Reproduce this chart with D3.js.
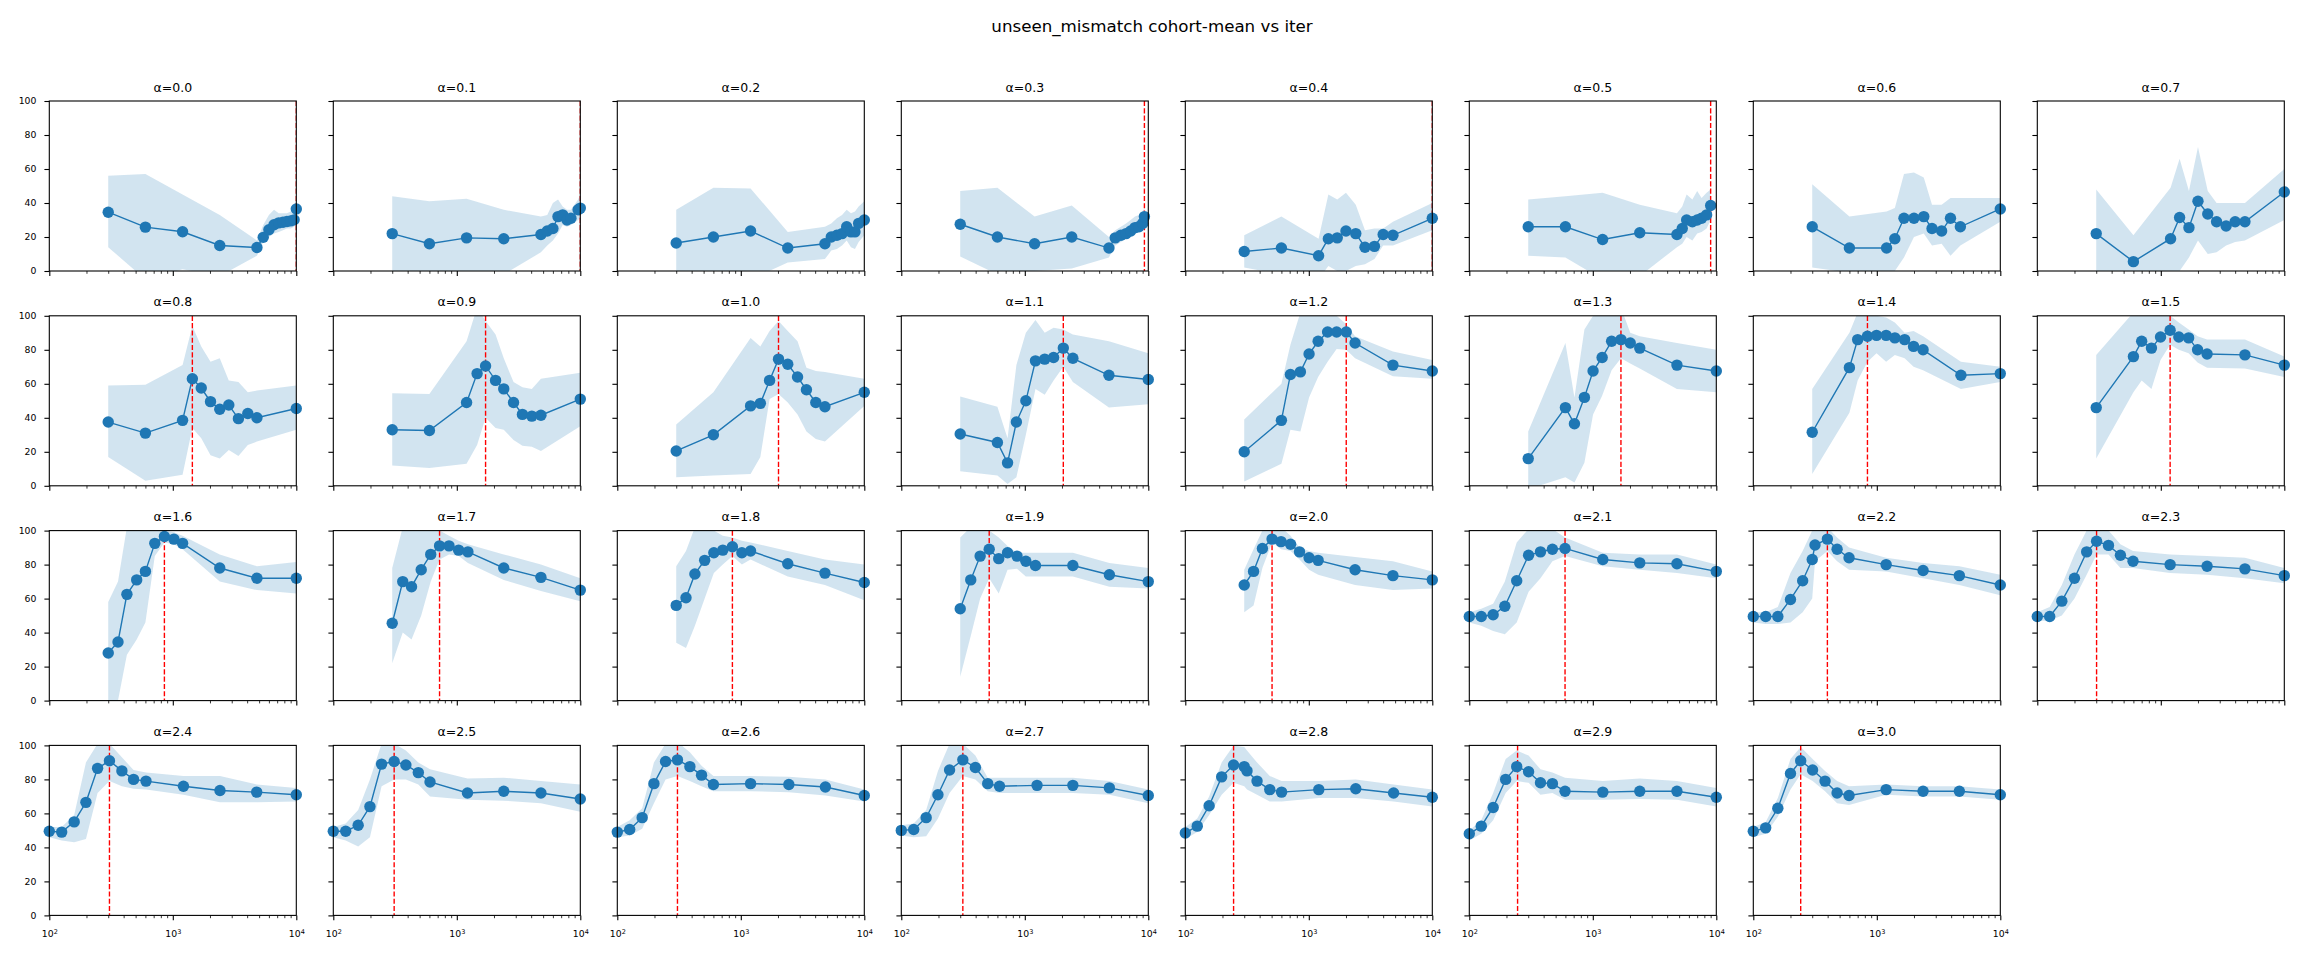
<!DOCTYPE html>
<html>
<head>
<meta charset="utf-8">
<script src="https://cdn.jsdelivr.net/npm/d3@7"></script>
<style>
  body { margin: 0; background: #fff; }
  svg { display: block; font-family: "DejaVu Sans", sans-serif; }
</style>
</head>
<body>
<svg id="chart" width="2304" height="960"></svg>
<script>
// panel labels (alpha values)
const alphas = ["0.0", "0.1", "0.2", "0.3", "0.4", "0.5", "0.6", "0.7",
                "0.8", "0.9", "1.0", "1.1", "1.2", "1.3", "1.4", "1.5",
                "1.6", "1.7", "1.8", "1.9", "2.0", "2.1", "2.2", "2.3",
                "2.4", "2.5", "2.6", "2.7", "2.8", "2.9", "3.0"];

// iterations sampled in each panel
const iters = [
  [300, 600, 1200, 2400, 4800, 5400, 6000, 6600, 7200, 7800, 8400, 9000, 9600, 10000],
  [300, 600, 1200, 2400, 4800, 5400, 6000, 6600, 7200, 7800, 8400, 9600, 10000],
  [300, 600, 1200, 2400, 4800, 5400, 6000, 6600, 7200, 7800, 8400, 9000, 10000],
  [300, 600, 1200, 2400, 4800, 5400, 6000, 6600, 7200, 7800, 8400, 9000, 9300],
  [300, 600, 1200, 1440, 1700, 2000, 2400, 2850, 3400, 4000, 4800, 10000],
  [300, 600, 1200, 2400, 4800, 5300, 5750, 6400, 7000, 7600, 8350, 9000],
  [300, 600, 1200, 1400, 1660, 2000, 2400, 2800, 3350, 3950, 4750, 10000],
  [300, 600, 1200, 1420, 1690, 2000, 2400, 2830, 3380, 4000, 4800, 10000],
  [300, 600, 1200, 1440, 1700, 2020, 2400, 2840, 3400, 4050, 4800, 10000],
  [300, 600, 1200, 1460, 1710, 2060, 2400, 2880, 3400, 4050, 4800, 10000],
  [300, 600, 1200, 1440, 1710, 2020, 2400, 2880, 3400, 4050, 4800, 10000],
  [300, 600, 725, 855, 1020, 1220, 1450, 1710, 2050, 2450, 4800, 10000],
  [300, 600, 710, 855, 1005, 1190, 1420, 1680, 2010, 2370, 4800, 10000],
  [300, 600, 710, 855, 1005, 1190, 1420, 1690, 2010, 2400, 4800, 10000],
  [300, 600, 700, 840, 995, 1190, 1400, 1680, 1985, 2370, 4800, 10000],
  [300, 600, 700, 840, 995, 1190, 1400, 1680, 1985, 2370, 4800, 10000],
  [300, 360, 425, 510, 600, 715, 855, 1020, 1200, 2400, 4800, 10000],
  [300, 365, 430, 515, 615, 725, 865, 1035, 1230, 2400, 4800, 10000],
  [300, 360, 425, 510, 605, 715, 855, 1020, 1200, 2400, 4800, 10000],
  [300, 365, 435, 515, 615, 725, 865, 1020, 1220, 2450, 4840, 10000],
  [300, 357, 421, 504, 596, 712, 841, 1005, 1190, 2370, 4800, 10000],
  [100, 125, 156, 194, 242, 302, 377, 471, 596, 1205, 2400, 4800, 10000],
  [100, 126, 158, 200, 251, 300, 316, 398, 477, 596, 1190, 2370, 4660, 10000],
  [100, 126, 158, 200, 251, 302, 377, 471, 596, 1190, 2370, 4800, 10000],
  [100, 126, 159, 198, 246, 307, 387, 481, 607, 1220, 2410, 4780, 10000],
  [100, 126, 159, 198, 246, 311, 387, 488, 607, 1220, 2400, 4800, 10000],
  [100, 126, 159, 198, 246, 307, 387, 481, 600, 1200, 2450, 4840, 10000],
  [100, 126, 159, 198, 246, 315, 398, 501, 624, 1256, 2450, 4840, 10000],
  [100, 125, 156, 197, 246, 300, 316, 381, 483, 602, 1205, 2400, 4860, 10000],
  [100, 125, 156, 197, 242, 302, 377, 471, 596, 1205, 2400, 4800, 10000],
  [100, 126, 158, 200, 242, 302, 381, 477, 596, 1190, 2370, 4660, 10000]
];

// cohort mean
const means = [
  [34.6, 25.8, 23.1, 15, 13.8, 19.8, 24.3, 27.2, 28.3, 28.7, 29.1, 29.5, 30.1, 36.5],
  [22, 16, 19.5, 19, 21.5, 23.5, 25, 32, 33, 30, 31, 36, 37],
  [16.5, 20, 23.5, 13.5, 16, 20, 21, 22, 26, 23, 23, 28, 30],
  [27.5, 20, 16, 20, 13.5, 19.5, 21, 22, 23.5, 25.5, 26, 28, 32],
  [11.5, 13.5, 9, 19, 19.5, 23.5, 22, 14, 14.5, 21.5, 21, 31],
  [26, 26, 18.5, 22.5, 21.5, 25, 30, 29, 30, 31, 33, 38.5],
  [26, 13.5, 13.5, 19, 31, 31, 32, 25, 23.5, 31, 26, 36.5],
  [22, 5.5, 19, 31.5, 25.5, 41, 33.5, 29, 26.5, 29, 29, 46.5],
  [37.5, 31, 38.5, 63, 57.5, 49.5, 45, 47.5, 39.5, 42.5, 40, 45.5],
  [33, 32.5, 49, 66, 70.5, 62, 57, 49, 42, 41, 41.5, 51],
  [20.5, 30, 47, 48.5, 62, 74.5, 71.5, 64, 56.5, 49, 46.5, 55],
  [30.5, 25.5, 13.5, 37.5, 50, 73.5, 74.5, 75.5, 81, 75, 65, 62.5],
  [20, 38.5, 65.5, 67, 77.5, 85, 90.5, 90.5, 90.5, 84, 71, 67.5],
  [16, 46, 36.5, 52, 67.5, 75.5, 85, 86, 84, 81, 71, 67.5],
  [31.5, 69.5, 86, 88, 88.5, 88.5, 87, 86, 82, 80, 65, 66],
  [46, 76, 85, 81, 87.5, 91.5, 87.5, 87, 80, 77.5, 77, 71],
  [28, 34.5, 62.5, 71, 76, 92.5, 96.5, 95, 92.5, 78, 72, 72],
  [45.5, 70, 67, 77, 86, 91, 91, 88.5, 87.5, 78, 72.5, 65],
  [56, 60.5, 74.5, 82.5, 87, 88.5, 90.5, 87, 88, 80.5, 75, 69.5],
  [54, 71, 85, 89, 83.5, 87, 85, 82, 79.5, 79.5, 74, 70],
  [68, 76, 89.5, 95, 93.5, 92, 87.5, 84, 82.5, 77, 73.5, 71],
  [49.5, 49.5, 50.5, 55.5, 70.5, 85.5, 87.5, 89, 89.5, 83, 81, 80.5, 76],
  [49.5, 49.5, 49.5, 59.5, 70.5, 83, 91.5, 95, 89, 84, 80, 76.5, 73.5, 68],
  [49.5, 49.5, 58.5, 72, 87.5, 93.7, 91.3, 85.5, 82, 80, 79, 77.5, 73.5],
  [49.5, 49, 55, 66.5, 86.5, 91, 85, 80, 79, 76, 73.5, 72.5, 71],
  [49.5, 49.5, 53, 64, 89, 90.5, 88.5, 84, 78.5, 72, 73, 72, 68.5],
  [49, 50.5, 57.5, 77.5, 90.5, 91.5, 87.5, 82.5, 77, 77.5, 77, 75.5, 70.5],
  [50, 50.5, 57.5, 71, 85.5, 91.5, 87, 77.5, 76, 76.5, 76.5, 75, 70.5],
  [48.5, 52.5, 64.5, 81.5, 88.5, 87.5, 85, 79, 74, 72.5, 74, 74.5, 72, 69.5],
  [48, 52.5, 63.5, 80, 87.5, 84.5, 78, 77.5, 73, 72.5, 73, 73, 69.5],
  [49.5, 51.5, 63, 83.5, 91, 85.5, 79, 72, 70.5, 74, 73, 73, 71]
];

// lower edge of the shaded band
const lows = [
  [14, -5, 1, -3, 9, 17, 20, 22, 23, 24, 25, 25, 26, 28],
  [-5, -8, -5, -2, 11, 15, 18, 22, 27, 26, 27, 30, 31],
  [-5, -5, -5, 5, 7, 12, 13, 15, 18, 14, 13, 17, 21],
  [8.5, -2, 0, 1.5, 8, 15, 17, 19, 20, 22, 23, 25, 27],
  [2, -2, -5, 3, 0, 0, 3, 4, 7, 15, 15, 24],
  [9, 8, -5, -3, 14, 16, 20, 18, 22, 23, 25, 30],
  [2, -1, -3, 0, 8, 20, 22, 15, 16, 9, 15, 29],
  [-5, -10, -10, 0, 8, 18, 10, 11, 15, 17, 18, 30],
  [17, 3, 6.5, 34, 28, 18, 16, 21, 17.5, 24, 26, 33],
  [12, 10.5, 13, 24, 40, 34, 33, 27, 23.5, 23, 20.5, 35],
  [5, 6, 7, 17, 51, 54, 49, 42, 32, 27.5, 26, 47],
  [8.5, 6, 1, 5, 30, 57, 53.5, 62, 70, 61, 46, 48],
  [2.5, 13, 33, 32, 52, 64, 73, 80.5, 80, 75, 64.5, 63],
  [-2, 5, 2, 13.5, 42, 53, 68, 75, 72, 69, 57, 55],
  [7, 43, 62, 73, 78, 73, 77, 75, 70, 68, 57, 61],
  [16, 55, 62, 57, 74, 83, 80, 78, 72.5, 69.5, 69, 64],
  [-5, 0, 27, 36, 46, 85, 93, 92, 89, 70, 65, 63],
  [22, 40, 36, 50, 70, 83, 86, 85, 81, 71, 64.5, 58.5],
  [34, 31, 44, 60, 75, 80, 85, 80, 83, 73, 68, 59],
  [14, 38, 60, 72, 63, 77, 77.5, 73, 73, 73, 67, 66],
  [52, 56, 78, 93, 89, 88, 83, 77, 74, 68, 65, 66],
  [46, 44, 41, 39, 46, 64, 72, 82, 85, 79, 77, 75, 72],
  [46, 45, 45, 46, 52, 60, 82, 88, 82, 77, 76, 72, 68, 62],
  [47, 47, 50, 60, 74, 86, 86, 78, 78, 75, 74, 72, 69],
  [46, 44, 43, 45, 72, 79, 76, 74.5, 74, 71, 66.5, 66.5, 67],
  [46, 44, 40.5, 46, 76, 80, 80, 77, 70, 68, 67.5, 66, 61],
  [46, 47, 51, 66, 80, 82, 79, 76, 73, 73, 72.5, 70.5, 67],
  [47, 46, 46.5, 57, 72, 82, 80, 73, 72, 72, 72, 71, 66],
  [45, 49, 59, 71, 78, 76, 74, 71, 67, 67, 69, 69, 67, 64],
  [44, 48, 56, 72, 79, 78, 71, 72, 68, 68, 68.5, 68, 64],
  [46, 48, 58, 74, 83, 79, 73, 66, 65, 71, 70, 70, 68]
];

// upper edge of the shaded band
const highs = [
  [56, 57, 45, 33, 18, 27, 33, 36, 34, 34, 34, 35, 36, 40],
  [44, 41, 42.5, 36, 32, 33, 40, 42, 38, 36, 36, 42, 45],
  [36, 49, 48.5, 23, 26, 28, 31, 33, 36, 34, 35, 38, 41],
  [47, 49, 32, 38.5, 20, 24, 26, 28, 30, 32, 33, 35, 37],
  [21, 32, 19, 45, 42, 46, 39, 24, 25, 25, 29, 40],
  [42, 44, 46, 39, 34, 38, 45, 42, 47, 43, 46, 48],
  [51, 32, 35, 37, 57, 58, 55, 39, 39, 43, 43, 43],
  [48, 21, 49, 66, 47, 73, 47, 40, 40, 40, 40, 60],
  [59, 59.5, 71, 94, 82, 73, 75, 62, 61, 55, 56, 59],
  [54.5, 54, 85, 105, 97, 89, 75, 61, 58, 57, 63, 66.5],
  [36, 55, 87, 82, 91, 97, 91, 85, 69.5, 67.5, 67, 63],
  [52.5, 46.5, 28, 71, 90, 97.5, 90, 93, 92, 89, 85, 78],
  [39, 60, 83, 102, 103, 102, 101, 100, 95, 88, 79, 74],
  [32, 84, 52, 92, 100, 103, 104, 105, 90, 88, 84, 80],
  [57, 90, 102, 104, 100, 99, 96, 90, 91, 88, 73, 70],
  [77, 102, 102, 100, 101, 100, 96, 92, 88, 86, 86, 76],
  [58, 70, 102, 102, 102, 102, 100, 99, 97, 86, 79, 81.5],
  [78, 102, 102, 102, 102, 100, 97, 94, 92, 86, 80, 72],
  [79, 88, 102, 102, 100, 97, 96, 94, 93, 88, 83, 80],
  [96, 102, 102, 100, 96, 91, 87, 87, 87, 87, 81, 78],
  [77, 89, 100, 102, 102, 97, 90, 88, 87, 84.5, 82, 76],
  [52, 54, 57, 70, 93, 101, 102, 101, 96, 87, 86, 86, 80],
  [52, 52, 55, 75, 88, 100, 102, 102, 96, 90, 84, 81, 79, 74],
  [52, 55, 68, 86, 100, 102, 100, 92, 88, 86, 85, 84, 78],
  [52, 52, 59, 90, 101, 101, 93, 85.5, 84, 82, 82, 77, 75],
  [52, 54, 62, 80, 101, 101, 97, 90, 86, 80.5, 81, 79, 77],
  [52, 56, 63, 90, 101, 102, 96, 88, 82, 82, 81.5, 80, 74],
  [53, 54, 62, 85, 101, 101, 94, 81, 81, 81, 81, 79, 74],
  [52, 57, 70, 90, 100, 99, 97, 90, 82, 79, 79, 80, 77, 74],
  [50, 56, 72, 92, 97, 94, 86, 84, 81, 79, 80.5, 79, 75],
  [52, 55, 69, 92, 99, 92, 85, 79, 76, 77, 76, 76, 74]
];

// iteration marked by the red dashed line (null = none)
const peakIters = [10000, 10000, null, 9300, 10000, 9000, null, null,
                   1440, 1710, 2020, 2050, 2010, 1690, 840, 1190,
                   855, 725, 855, 515, 504, 596, 398, 302,
                   307, 311, 307, 315, 246, 246, 242];

const yTicks = [0, 20, 40, 60, 80, 100];
const xMajor = [100, 1000, 10000];
const xMinor = [200, 300, 400, 500, 600, 700, 800, 900,
                2000, 3000, 4000, 5000, 6000, 7000, 8000, 9000];

const blue = "#1f77b4";
const ncols = 8, nrows = 4;
const panelW = 247, panelH = 170;
const left0 = 49.3, colStep = 284, top0 = 101, rowStep = 214.8;

const svg = d3.select("#chart");

const x = d3.scaleLog().domain([100, 10000]).range([0, panelW]);
const y = d3.scaleLinear().domain([0, 100]).range([panelH, 0]);

svg.append("text")
  .attr("x", 1152).attr("y", 32)
  .attr("text-anchor", "middle")
  .attr("font-size", "16.7px")
  .text("unseen_mismatch cohort-mean vs iter");

const area = d3.area().x(d => x(d.it)).y0(d => y(d.lo)).y1(d => y(d.hi));
const line = d3.line().x(d => x(d.it)).y(d => y(d.m));

alphas.forEach((a, i) => {
  const row = Math.floor(i / ncols), col = i % ncols;
  const g = svg.append("g")
    .attr("transform", `translate(${left0 + col * colStep},${top0 + row * rowStep})`);

  const pts = iters[i].map((it, k) => ({it: it, m: means[i][k], lo: lows[i][k], hi: highs[i][k]}));
  if (means[i].length !== pts.length || lows[i].length !== pts.length || highs[i].length !== pts.length)
    console.error("length mismatch in panel", a);

  g.append("clipPath").attr("id", "clip" + i)
    .append("rect").attr("width", panelW).attr("height", panelH);

  const plot = g.append("g").attr("clip-path", `url(#clip${i})`);

  plot.append("path").datum(pts)
    .attr("d", area)
    .attr("fill", blue).attr("fill-opacity", 0.2);

  plot.append("path").datum(pts)
    .attr("d", line)
    .attr("fill", "none").attr("stroke", blue).attr("stroke-width", 1.4);

  // markers are not clipped at the frame
  g.append("g").selectAll("circle").data(pts).join("circle")
    .attr("cx", d => x(d.it)).attr("cy", d => y(d.m))
    .attr("r", 5.7).attr("fill", blue);

  if (peakIters[i] !== null) {
    plot.append("line")
      .attr("x1", x(peakIters[i])).attr("x2", x(peakIters[i]))
      .attr("y1", 0).attr("y2", panelH)
      .attr("stroke", "red").attr("stroke-width", 1.4)
      .attr("stroke-dasharray", "5.1,2.2");
  }

  // y axis
  const yAxis = d3.axisLeft(y).tickValues(yTicks).tickSize(4.9).tickPadding(8);
  if (col !== 0) yAxis.tickFormat("");
  const ya = g.append("g").call(yAxis);
  ya.select(".domain").remove();
  ya.selectAll(".tick line").attr("stroke-width", 1.1);
  ya.selectAll("text").attr("font-size", "9.3px").attr("font-family", "DejaVu Sans");

  // x axis: minor then major
  const xm = g.append("g").attr("transform", `translate(0,${panelH})`)
    .call(d3.axisBottom(x).tickValues(xMinor).tickSize(2.8).tickFormat(""));
  xm.select(".domain").remove();
  xm.selectAll(".tick line").attr("stroke-width", 0.8);

  const xa = g.append("g").attr("transform", `translate(0,${panelH})`)
    .call(d3.axisBottom(x).tickValues(xMajor).tickSize(4.9).tickFormat(""));
  xa.select(".domain").remove();
  xa.selectAll(".tick line").attr("stroke-width", 1.1);
  if (row === nrows - 1) {
    xa.selectAll(".tick").append("text")
      .attr("y", 21.5).attr("fill", "#000")
      .attr("text-anchor", "middle")
      .attr("font-size", "9.3px").attr("font-family", "DejaVu Sans")
      .each(function(d) {
        const t = d3.select(this);
        t.append("tspan").text("10");
        t.append("tspan").attr("dy", "-0.45em").attr("font-size", "6.5px").text(Math.round(Math.log10(d)));
      });
  }

  // spines
  g.append("rect")
    .attr("width", panelW).attr("height", panelH)
    .attr("fill", "none").attr("stroke", "#000").attr("stroke-width", 1.1);

  // panel title
  g.append("text")
    .attr("x", panelW / 2).attr("y", -9.5)
    .attr("text-anchor", "middle")
    .attr("font-size", "12.5px")
    .text("α=" + a);
});
</script>
</body>
</html>
